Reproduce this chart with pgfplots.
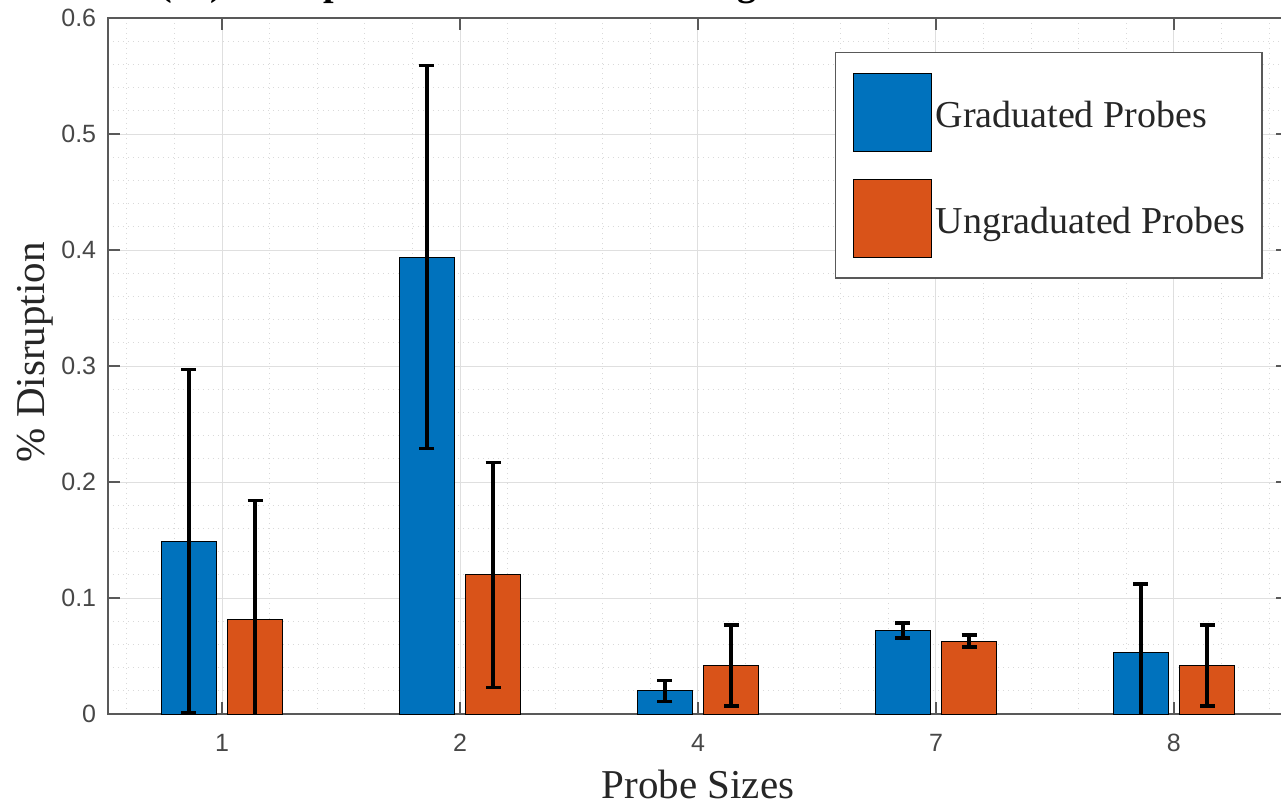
\documentclass[border=0pt]{standalone}
\usepackage{fontspec}
\setmainfont{Liberation Serif}
\newfontfamily\ticksans{Liberation Sans}
\usepackage{pgfplots}
\usepackage{pgfplotstable}
\pgfplotsset{compat=1.18}
\definecolor{mblue}{rgb}{0,0.447,0.741}
\definecolor{morange}{rgb}{0.85,0.325,0.098}
\definecolor{axgray}{rgb}{0.35,0.35,0.35}
\definecolor{tickgray}{rgb}{0.28,0.28,0.28}

\pgfplotstableread{
x y err
0 0.149 0.148
1 0.394 0.165
2 0.020 0.009
3 0.072 0.0065
4 0.053 0.059
}\gradtable
\pgfplotstableread{
x y err
0 0.082 0.102
1 0.120 0.097
2 0.042 0.035
3 0.063 0.005
4 0.042 0.035
}\ungradtable

\begin{document}
\begin{tikzpicture}
\begin{axis}[
  scale only axis, width=590pt, height=348pt,
  xmin=-0.48, xmax=4.48, ymin=0, ymax=0.6,
  xtick={0,1,2,3,4}, xticklabels={1,2,4,7,8},
  ytick={0,0.1,0.2,0.3,0.4,0.5,0.6},
  yticklabels={0,0.1,0.2,0.3,0.4,0.5,0.6},
  minor xtick={-0.4,-0.2,0.2,0.4,0.6,0.8,1.2,1.4,1.6,1.8,2.2,2.4,2.6,2.8,3.2,3.4,3.6,3.8,4.2,4.4},
  minor ytick={0.02,0.04,0.06,0.08,0.12,0.14,0.16,0.18,0.22,0.24,0.26,0.28,0.32,0.34,0.36,0.38,0.42,0.44,0.46,0.48,0.52,0.54,0.56,0.58},
  grid=both,
  major grid style={line width=0.5pt, gray!25},
  minor grid style={line width=0.5pt, gray!30, dotted},
  tick align=inside, major tick length=6pt, minor tick length=0pt,
  axis line style={axgray, line width=0.7pt},
  every tick/.style={axgray, line width=0.7pt},
  ticklabel style={font=\ticksans\fontsize{12.5}{14}\selectfont, text=tickgray},
  /pgf/number format/assume math mode=true,
  yticklabel style={xshift=-2.3pt},
  xticklabel style={yshift=-6.3pt},
  xlabel={Probe Sizes},
  xlabel style={font=\fontsize{20.5}{24}\selectfont, at={(axis description cs:0.5,-0.121)}, anchor=base, text=black!85},
  ylabel={\% Disruption},
  ylabel style={font=\fontsize{20.5}{24}\selectfont, at={(axis description cs:-0.0619,0.52)}, anchor=center, text=black!85},
  title={Percent (\%) Disruption of Graduated vs Ungraduated Probes Soft Tissue Phantom},
  title style={font=\bfseries\fontsize{19}{22}\selectfont, at={(axis description cs:0.5,1.0151)}, anchor=base},
  legend image code/.code={\draw[#1,draw=black,line width=0.5pt] (0pt,-19.5pt) rectangle (39pt,19.5pt);},
  legend style={at={(rel axis cs:0.616,0.951)}, anchor=north west, draw=axgray, line width=0.7pt, fill=white,
    inner xsep=8.5pt, inner ysep=10pt, row sep=13.5pt, column sep=2pt,
    font=\fontsize{19}{22}\selectfont, text=black!85,
    nodes={inner sep=0pt, anchor=base west, yshift=-7.5pt}},
  legend cell align=left,
]
\addplot[ybar, bar width=0.231, bar shift=-0.139, fill=mblue, draw=black, line width=0.5pt, forget plot]
  table[x=x, y=y] {\gradtable};
\addplot[ybar, bar width=0.231, bar shift=0.139, fill=morange, draw=black, line width=0.5pt, forget plot]
  table[x=x, y=y] {\ungradtable};
\addplot[draw=none, mark=none, forget plot,
  error bars/.cd, y dir=both, y explicit, error mark=-,
  error bar style={draw=black, line width=1.8pt},
  error mark options={rotate=90, draw=black, mark size=3.75pt, line width=1.8pt}]
  table[x expr=\thisrow{x}-0.139, y=y, y error=err] {\gradtable};
\addplot[draw=none, mark=none, forget plot,
  error bars/.cd, y dir=both, y explicit, error mark=-,
  error bar style={draw=black, line width=1.8pt},
  error mark options={rotate=90, draw=black, mark size=3.75pt, line width=1.8pt}]
  table[x expr=\thisrow{x}+0.139, y=y, y error=err] {\ungradtable};
\addlegendimage{fill=mblue}
\addlegendentry{Graduated Probes}
\addlegendimage{fill=morange}
\addlegendentry{Ungraduated Probes}
\coordinate (bbsw) at (axis cs:-0.933,-0.0776);
\coordinate (bbne) at (axis cs:4.450,0.6155);
\end{axis}
\pgfresetboundingbox
\useasboundingbox (bbsw) rectangle (bbne);
\end{tikzpicture}
\end{document}
